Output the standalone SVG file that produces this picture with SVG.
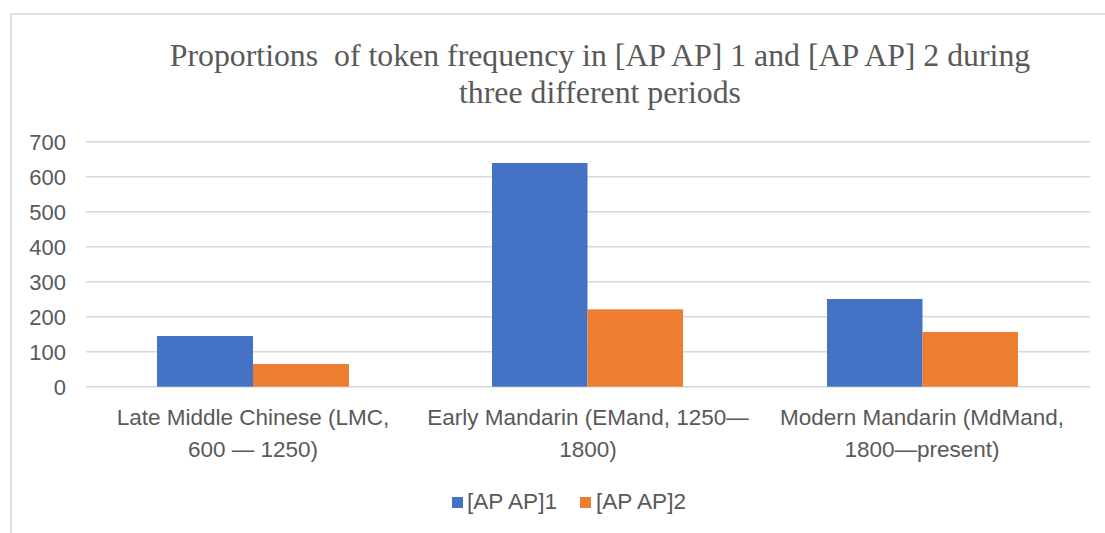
<svg xmlns="http://www.w3.org/2000/svg" width="1105" height="533" viewBox="0 0 1105 533">
<style>
.frame{fill:#fff;stroke:#d9d9d9;stroke-width:1.5}
.grid{stroke:#d9d9d9;stroke-width:1.5}
.title{font-family:"Liberation Serif","Times New Roman",serif;font-size:31.8px;fill:#595959;text-anchor:middle}
.ax{font-family:"Liberation Sans",Arial,sans-serif;font-size:22px;fill:#595959;text-anchor:end}
.cat{font-family:"Liberation Sans",Arial,sans-serif;font-size:22.5px;fill:#595959;text-anchor:middle}
.leg{font-family:"Liberation Sans",Arial,sans-serif;font-size:22.6px;fill:#595959}
.s1{fill:#4472c4}
.s2{fill:#ed7d31}
</style>
<rect x="0" y="0" width="1105" height="533" fill="#fff"/>
<rect class="frame" x="11" y="14" width="1110" height="540"/>
<g id="title">
<text class="title" x="600" y="66" xml:space="preserve">Proportions  of token frequency in [AP AP] 1 and [AP AP] 2 during</text>
<text class="title" x="600" y="103">three different periods</text>
</g>
<g id="grid">
<line class="grid" x1="86" y1="141.7" x2="1090" y2="141.7"/>
<line class="grid" x1="86" y1="176.7" x2="1090" y2="176.7"/>
<line class="grid" x1="86" y1="211.7" x2="1090" y2="211.7"/>
<line class="grid" x1="86" y1="246.7" x2="1090" y2="246.7"/>
<line class="grid" x1="86" y1="281.7" x2="1090" y2="281.7"/>
<line class="grid" x1="86" y1="316.7" x2="1090" y2="316.7"/>
<line class="grid" x1="86" y1="351.7" x2="1090" y2="351.7"/>
<line class="grid" x1="86" y1="386.7" x2="1090" y2="386.7"/>
</g>
<g id="yaxis">
<text class="ax" x="66" y="149.5">700</text>
<text class="ax" x="66" y="184.5">600</text>
<text class="ax" x="66" y="219.5">500</text>
<text class="ax" x="66" y="254.5">400</text>
<text class="ax" x="66" y="289.5">300</text>
<text class="ax" x="66" y="324.5">200</text>
<text class="ax" x="66" y="359.5">100</text>
<text class="ax" x="66" y="394.5">0</text>
</g>
<g id="bars">
<rect class="s1" x="157" y="336" width="96" height="50.7"/>
<rect class="s2" x="253" y="364" width="96" height="22.7"/>
<rect class="s1" x="492" y="163" width="95.5" height="223.7"/>
<rect class="s2" x="587.5" y="309.3" width="95.5" height="77.4"/>
<rect class="s1" x="827" y="299" width="95.5" height="87.7"/>
<rect class="s2" x="922.5" y="332" width="95.5" height="54.7"/>
</g>
<g id="categories">
<text class="cat" x="253" y="425">Late Middle Chinese (LMC,</text>
<text class="cat" x="253" y="457">600 — 1250)</text>
<text class="cat" x="588" y="425">Early Mandarin (EMand, 1250—</text>
<text class="cat" x="588" y="457">1800)</text>
<text class="cat" x="922" y="425">Modern Mandarin (MdMand,</text>
<text class="cat" x="922" y="457">1800—present)</text>
</g>
<g id="legend">
<rect class="s1" x="452" y="497" width="11" height="11"/>
<text class="leg" x="467" y="509">[AP AP]1</text>
<rect class="s2" x="580" y="497" width="11" height="11"/>
<text class="leg" x="596" y="509">[AP AP]2</text>
</g>
</svg>
